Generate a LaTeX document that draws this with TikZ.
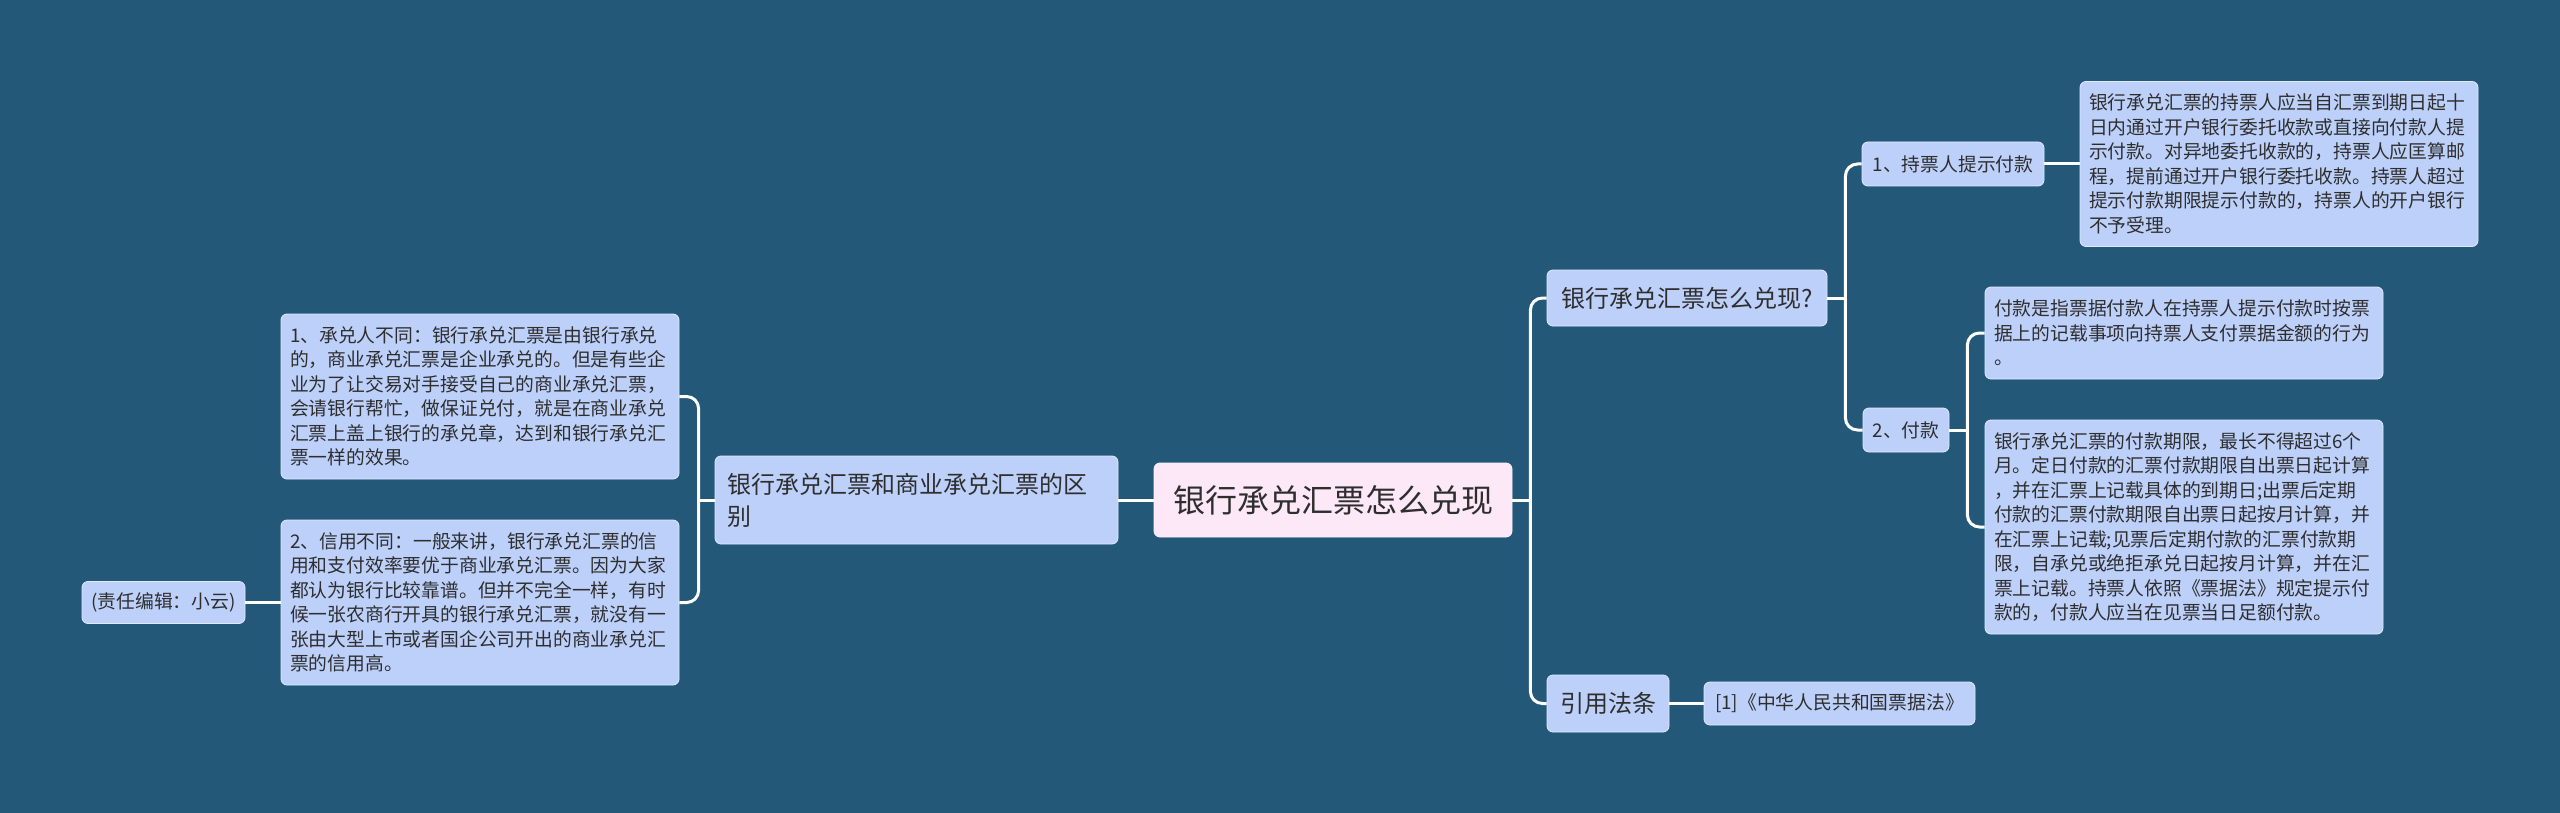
\documentclass[tikz,border=0pt]{standalone}
\usepackage{fontspec}
\setmainfont{Noto Sans CJK SC}
\definecolor{bgblue}{HTML}{235878}
\definecolor{nodeblue}{HTML}{BDD0FA}
\definecolor{rootpink}{HTML}{FDE8F8}
\definecolor{textdark}{HTML}{2E2E2E}
\newcommand{\leaffont}{\fontsize{18.8}{24.5}\selectfont}
\newcommand{\mainfont}{\fontsize{24}{32}\selectfont}
\begin{document}
\begin{tikzpicture}[x=1pt,y=-1pt]
\tikzstyle{every node}+=[inner sep=0pt, text=textdark]
\tikzstyle{topic}=[fill=nodeblue, draw=white!55!nodeblue, line width=0.8, rounded corners=6, align=center]
\tikzstyle{leaf}=[topic, align=left, inner xsep=9, text width=380, font=\leaffont]
\tikzstyle{sub}=[topic, font=\leaffont]
\tikzstyle{branch}=[topic, font=\mainfont]
\tikzstyle{link}=[draw=white, line width=3, rounded corners=12]
\fill [bgblue] (0,0) rectangle (2560,813);
\useasboundingbox (0,0) rectangle (2560,813);
% centre and first level
\node [topic, fill=rootpink, draw=white!40!rootpink, font=\fontsize{32}{38}\selectfont, minimum width=358, minimum height=74] (root) at (1333,500) {银行承兑汇票怎么兑现};
\node [branch, align=left, inner xsep=12, text width=379, minimum height=88] (diff) at (916.5,500) {银行承兑汇票和商业承兑汇票的区\\别};
\node [branch, minimum width=280, minimum height=56] (how) at (1687,298) {银行承兑汇票怎么兑现?};
\node [branch, minimum width=122, minimum height=57] (law) at (1608,703.5) {引用法条};
% left side
\node [leaf, minimum height=165] (diff1) at (480,396.5) {1、承兑人不同：银行承兑汇票是由银行承兑\\的，商业承兑汇票是企业承兑的。但是有些企\\业为了让交易对手接受自己的商业承兑汇票，\\会请银行帮忙，做保证兑付，就是在商业承兑\\汇票上盖上银行的承兑章，达到和银行承兑汇\\票一样的效果。};
\node [leaf, minimum height=165] (diff2) at (480,602.5) {2、信用不同：一般来讲，银行承兑汇票的信\\用和支付效率要优于商业承兑汇票。因为大家\\都认为银行比较靠谱。但并不完全一样，有时\\候一张农商行开具的银行承兑汇票，就没有一\\张由大型上市或者国企公司开出的商业承兑汇\\票的信用高。};
\node [sub, minimum width=163, minimum height=42] (editor) at (163.5,602.5) {(责任编辑：小云)};
% right side
\node [sub, minimum width=182, minimum height=44] (present) at (1953,164) {1、持票人提示付款};
\node [sub, minimum width=86, minimum height=44] (pay) at (1906,430) {2、付款};
\node [sub, minimum width=271, minimum height=43] (cite) at (1839.5,703.5) {[1]《中华人民共和国票据法》};
\node [leaf, minimum height=165] (present1) at (2279,164) {银行承兑汇票的持票人应当自汇票到期日起十\\日内通过开户银行委托收款或直接向付款人提\\示付款。对异地委托收款的，持票人应匡算邮\\程，提前通过开户银行委托收款。持票人超过\\提示付款期限提示付款的，持票人的开户银行\\不予受理。};
\node [leaf, minimum height=92] (pay1) at (2184,333) {付款是指票据付款人在持票人提示付款时按票\\据上的记载事项向持票人支付票据金额的行为\\。};
\node [leaf, minimum height=214] (pay2) at (2184,527) {银行承兑汇票的付款期限，最长不得超过6个\\月。定日付款的汇票付款期限自出票日起计算\\，并在汇票上记载具体的到期日;出票后定期\\付款的汇票付款期限自出票日起按月计算，并\\在汇票上记载;见票后定期付款的汇票付款期\\限，自承兑或绝拒承兑日起按月计算，并在汇\\票上记载。持票人依照《票据法》规定提示付\\款的，付款人应当在见票当日足额付款。};
% joints
\coordinate (jl) at ([xshift=-16]diff.west);
\coordinate (jr) at ([xshift=18]root.east);
\coordinate (jh) at ([xshift=18]how.east);
\coordinate (jp) at ([xshift=18]pay.east);
% connectors
\draw [link] (root.west) -- (diff.east);
\draw [link] (diff.west) -- (jl);
\draw [link] (jl) |- (diff1.east);
\draw [link] (jl) |- (diff2.east);
\draw [link] (diff2.west) -- (editor.east);
\draw [link] (root.east) -- (jr);
\draw [link] (jr) |- (how.west);
\draw [link] (jr) |- (law.west);
\draw [link] (law.east) -- (cite.west);
\draw [link] (how.east) -- (jh);
\draw [link] (jh) |- (present.west);
\draw [link] (jh) |- (pay.west);
\draw [link] (present.east) -- (present1.west);
\draw [link] (pay.east) -- (jp);
\draw [link] (jp) |- (pay1.west);
\draw [link] (jp) |- (pay2.west);
\end{tikzpicture}
\end{document}
